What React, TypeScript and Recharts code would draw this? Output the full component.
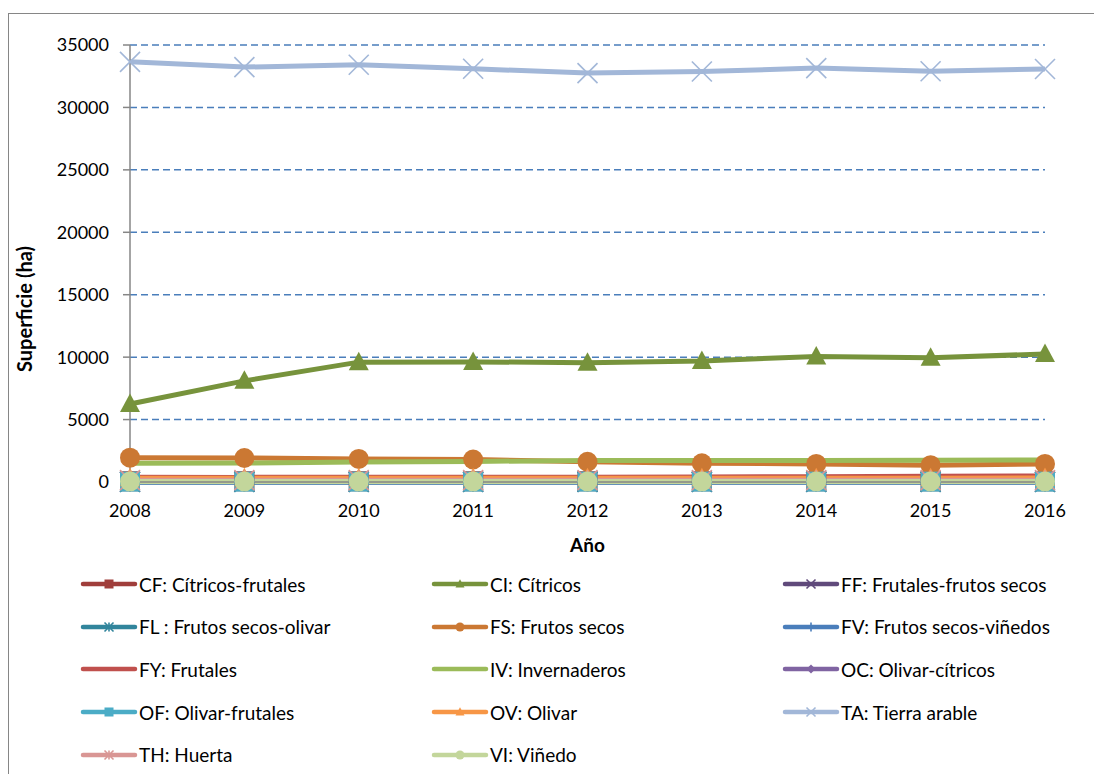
// @ts-nocheck
import React from "react";
import { LineChart, Line, XAxis, YAxis, CartesianGrid } from "recharts";

const years = ["2008", "2009", "2010", "2011", "2012", "2013", "2014", "2015", "2016"];
const yTicks = [0, 5000, 10000, 15000, 20000, 25000, 30000, 35000];

const cf = [60, 60, 60, 60, 60, 60, 60, 60, 60];
const ci = [6250, 8100, 9600, 9620, 9560, 9700, 10050, 9960, 10250];
const ff = [20, 20, 20, 20, 20, 20, 20, 20, 20];
const fl = [10, 10, 10, 10, 10, 10, 10, 10, 10];
const fs = [1950, 1920, 1850, 1800, 1620, 1500, 1450, 1350, 1450];
const fv = [10, 10, 10, 10, 10, 10, 10, 10, 10];
const fy = [380, 370, 380, 390, 390, 400, 430, 470, 480];
const iv = [1500, 1520, 1600, 1650, 1720, 1720, 1730, 1740, 1760];
const oc = [15, 15, 15, 15, 15, 15, 15, 15, 15];
const of = [30, 30, 30, 30, 30, 30, 30, 30, 30];
const ov = [300, 300, 300, 300, 300, 300, 300, 310, 320];
const ta = [33650, 33230, 33420, 33100, 32750, 32880, 33150, 32900, 33080];
const th = [150, 150, 150, 150, 150, 150, 150, 150, 150];
const vi = [40, 40, 40, 40, 40, 40, 40, 40, 40];

const series = [
  { key: "CF", name: "CF: Cítricos-frutales", values: cf, color: "#A03E3B", marker: "square" },
  { key: "CI", name: "CI: Cítricos", values: ci, color: "#77933C", marker: "triangle" },
  { key: "FF", name: "FF: Frutales-frutos secos", values: ff, color: "#604A7B", marker: "x" },
  { key: "FL", name: "FL : Frutos secos-olivar", values: fl, color: "#31859C", marker: "star" },
  { key: "FS", name: "FS: Frutos secos", values: fs, color: "#CB7833", marker: "circle" },
  { key: "FV", name: "FV: Frutos secos-viñedos", values: fv, color: "#4A7EBB", marker: "plus" },
  { key: "FY", name: "FY: Frutales", values: fy, color: "#C0504D", marker: "none" },
  { key: "IV", name: "IV: Invernaderos", values: iv, color: "#9BBB59", marker: "none" },
  { key: "OC", name: "OC: Olivar-cítricos", values: oc, color: "#8064A2", marker: "diamond" },
  { key: "OF", name: "OF: Olivar-frutales", values: of, color: "#4BACC6", marker: "square" },
  { key: "OV", name: "OV: Olivar", values: ov, color: "#F79646", marker: "triangle" },
  { key: "TA", name: "TA: Tierra arable", values: ta, color: "#A2B7D8", marker: "x" },
  { key: "TH", name: "TH: Huerta", values: th, color: "#D99694", marker: "star" },
  { key: "VI", name: "VI: Viñedo", values: vi, color: "#C3D69B", marker: "circle" },
];

const data = years.map((year, i) => {
  const row = { year };
  series.forEach((s) => (row[s.key] = s.values[i]));
  return row;
});

const FONT = "Lato, 'DejaVu Sans', sans-serif";

function markerShape(type, cx, cy, s, color, key) {
  switch (type) {
    case "square":
      return <rect key={key} x={cx - s} y={cy - s} width={2 * s} height={2 * s} fill={color} />;
    case "triangle":
      return (
        <polygon key={key} fill={color}
          points={`${cx},${cy - s * 1.05} ${cx - s},${cy + s * 0.8} ${cx + s},${cy + s * 0.8}`} />
      );
    case "circle":
      return <circle key={key} cx={cx} cy={cy} r={s} fill={color} />;
    case "diamond":
      return <polygon key={key} fill={color} points={`${cx},${cy - s} ${cx + s},${cy} ${cx},${cy + s} ${cx - s},${cy}`} />;
    case "x":
      return (
        <g key={key} stroke={color} strokeWidth={1.6}>
          <line x1={cx - s} y1={cy - s} x2={cx + s} y2={cy + s} />
          <line x1={cx - s} y1={cy + s} x2={cx + s} y2={cy - s} />
        </g>
      );
    case "star":
      return (
        <g key={key} stroke={color} strokeWidth={1.6}>
          <line x1={cx - s} y1={cy - s} x2={cx + s} y2={cy + s} />
          <line x1={cx - s} y1={cy + s} x2={cx + s} y2={cy - s} />
          <line x1={cx} y1={cy - s} x2={cx} y2={cy + s} />
        </g>
      );
    case "plus":
      return (
        <g key={key} stroke={color} strokeWidth={1.6}>
          <line x1={cx} y1={cy - s} x2={cx} y2={cy + s} />
          <line x1={cx - s} y1={cy} x2={cx + s} y2={cy} />
        </g>
      );
    default:
      return <g key={key} />;
  }
}

const makeDot = (s) => (props) => {
  const { cx, cy, index } = props;
  if (cx == null || cy == null || s.marker === "none") return <g key={`${s.key}-${index}`} />;
  return markerShape(s.marker, cx, cy, 10, s.color, `${s.key}-${index}`);
};

const YLabel = () => {
  const x = 23;
  const y = 295;
  return (
    <text x={x} y={y} transform={`rotate(-90, ${x}, ${y})`} textAnchor="middle"
      fontFamily={FONT} fontSize={20} fontWeight={700} fill="#000">
      Superficie (ha)
    </text>
  );
};

const XLabel = ({ viewBox }) => (
  <text x={viewBox.x + viewBox.width / 2} y={538} textAnchor="middle"
    fontFamily={FONT} fontSize={19} fontWeight={700} fill="#000">
    Año
  </text>
);

function LegendBox() {
  return (
    <>
      {series.map((s, i) => {
        const col = i % 3;
        const row = Math.floor(i / 3);
        return (
          <div key={s.key} style={{
            position: "absolute", left: 71 + col * 351, top: 570 + row * 42.7 - 12,
            height: 24, display: "flex", alignItems: "center", whiteSpace: "nowrap",
            fontFamily: FONT, fontSize: 19, color: "#000",
          }}>
            <svg width={58} height={24} style={{ marginRight: 1 }}>
              <line x1={3} y1={12} x2={55} y2={12} stroke={s.color} strokeWidth={4.5} strokeLinecap="round" />
              {markerShape(s.marker, 29, 12, 4.5, s.color, "m")}
            </svg>
            <span>{s.name}</span>
          </div>
        );
      })}
    </>
  );
}

export default function App() {
  return (
    <div style={{
      position: "relative", marginTop: 5, width: 1088, height: 760,
      borderTop: "1px solid #868686", borderLeft: "1px solid #868686", borderRight: "1px solid #868686",
      overflow: "hidden", background: "#fff",
    }}>
      <LineChart width={1088} height={760} data={data}
        margin={{ top: 31, right: 52, left: 0, bottom: 262 }}>
        <CartesianGrid vertical={false} stroke="#4A7EBB" strokeDasharray="7 4" strokeWidth={1.5} />
        <XAxis dataKey="year" height={30} tickLine={false} tickSize={0} tickMargin={22}
          axisLine={{ stroke: "#868686", strokeWidth: 1.5 }}
          tick={{ fontFamily: FONT, fontSize: 18, fill: "#000" }}
          label={<XLabel />} />
        <YAxis width={121} domain={[0, 35000]} ticks={yTicks} interval={0}
          tickSize={7} tickMargin={14}
          axisLine={{ stroke: "#868686", strokeWidth: 1.5 }}
          tickLine={{ stroke: "#868686", strokeWidth: 1.5 }}
          tick={{ fontFamily: FONT, fontSize: 18, fill: "#000" }}
          label={<YLabel />} />
        {series.map((s) => (
          <Line key={s.key} type="linear" dataKey={s.key} name={s.name} stroke={s.color}
            strokeWidth={5} dot={makeDot(s)} activeDot={false} isAnimationActive={false} />
        ))}
      </LineChart>
      <LegendBox />
    </div>
  );
}
